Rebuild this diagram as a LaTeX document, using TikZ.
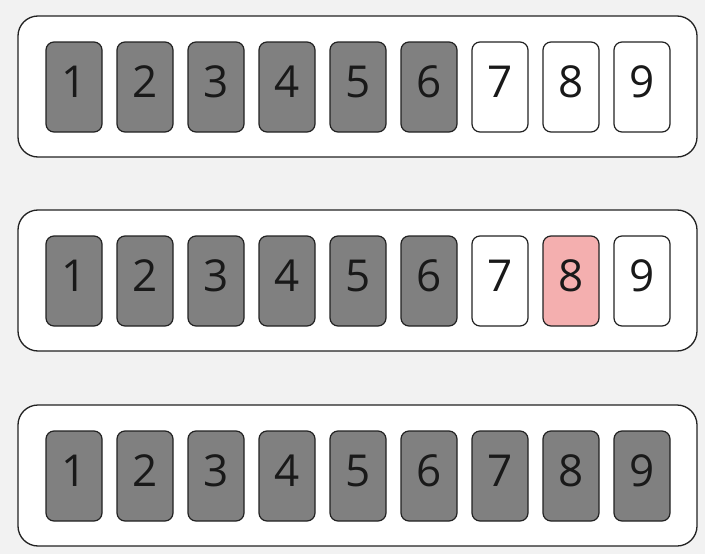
\documentclass[tikz,border=0pt]{standalone}
\usepackage{fontspec}
\setmainfont{Open Sans}
\definecolor{bg}{HTML}{F2F2F2}
\definecolor{done}{HTML}{808080}
\definecolor{hit}{HTML}{F4AFAF}
\definecolor{edge}{HTML}{222222}
\tikzset{
  tray/.style={draw=edge,line width=1.3pt,fill=white,rounded corners=20pt},
  cell/.style={draw=edge,line width=1.2pt,rounded corners=8pt,minimum width=56pt,minimum height=90pt,inner sep=0pt,text depth=10pt,font=\fontsize{44}{44}\selectfont,text=black!90},
}
\begin{document}
\begin{tikzpicture}[x=1pt,y=-1pt]
\fill[bg] (0,0) rectangle (705,554);
\useasboundingbox (0,0) rectangle (705,554);
\draw[tray] (18,16) rectangle (697,157);
\draw[tray] (18,210) rectangle (697,351);
\draw[tray] (18,405) rectangle (697,546);
% first row: six taken
\foreach \i in {1,...,9} {
  \ifnum\i<7 \def\col{done}\else\def\col{white}\fi
  \node[cell,fill=\col] (a\i) at (3+71*\i,87) {\i};
}
% second row: 8 is checked
\foreach \i in {1,...,9} {
  \ifnum\i<7 \def\col{done}\else\ifnum\i=8 \def\col{hit}\else\def\col{white}\fi\fi
  \node[cell,fill=\col] (b\i) at (3+71*\i,281) {\i};
}
% third row: all taken
\foreach \i in {1,...,9} {
  \node[cell,fill=done] (c\i) at (3+71*\i,476) {\i};
}
\end{tikzpicture}
\end{document}
